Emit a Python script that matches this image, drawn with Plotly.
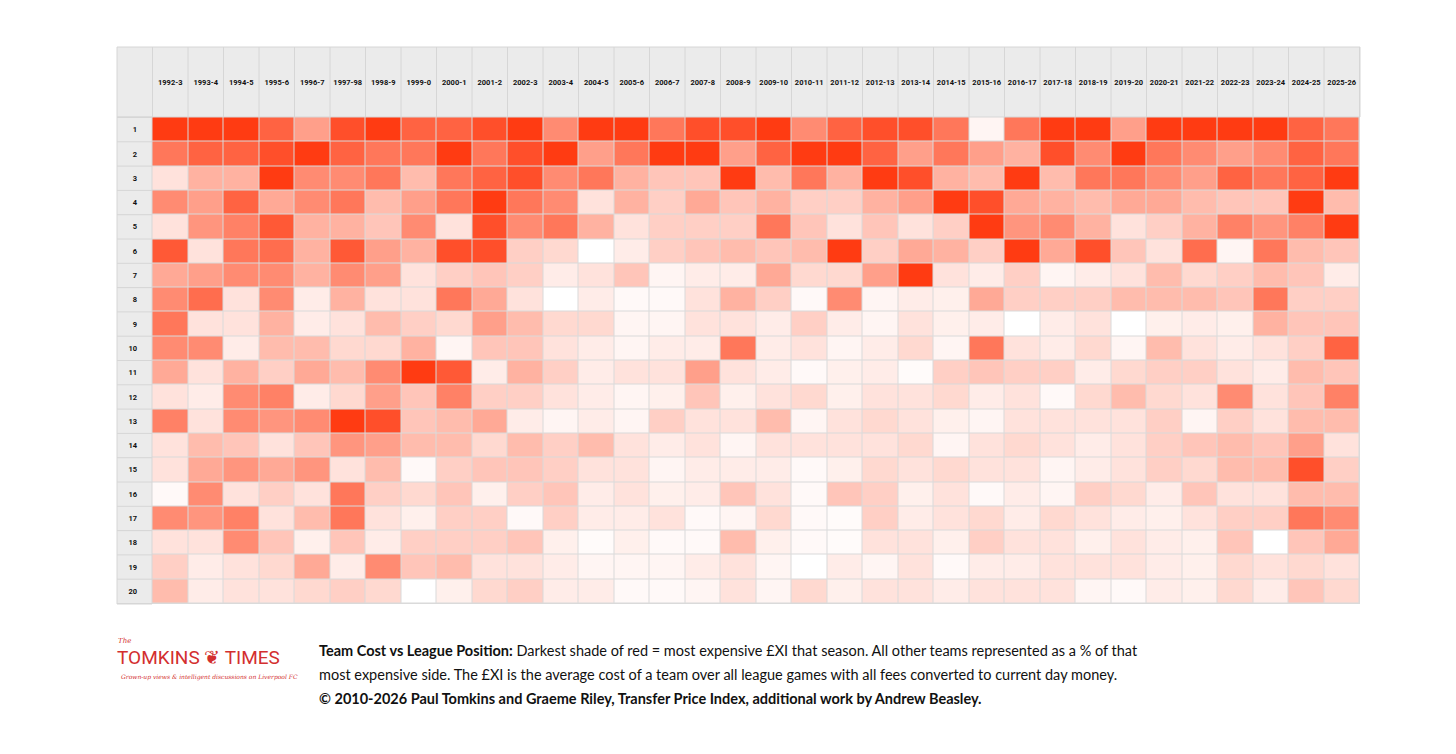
import plotly.graph_objects as go

# Seasons (columns) and league positions (rows)
seasons = ['1992-3', '1993-4', '1994-5', '1995-6', '1996-7', '1997-98', '1998-9', '1999-0',
           '2000-1', '2001-2', '2002-3', '2003-4', '2004-5', '2005-6', '2006-7', '2007-8',
           '2008-9', '2009-10', '2010-11', '2011-12', '2012-13', '2013-14', '2014-15', '2015-16',
           '2016-17', '2017-18', '2018-19', '2019-20', '2020-21', '2021-22', '2022-23', '2023-24',
           '2024-25', '2025-26']
positions = [str(i) for i in range(1, 21)]

# Shade per cell (0 = cheapest relative side, 10 = most expensive XI that season)
p01 = [10, 10, 10, 8, 5, 9, 10, 8, 8, 9, 10, 6, 10, 10, 7, 9, 9, 10, 6, 8, 9, 9, 7, 0.5, 7, 10, 10, 5, 10, 10, 10, 10, 8, 7]
p02 = [7, 8, 8, 9, 10, 8, 7, 7, 10, 7, 9, 10, 5, 7, 10, 10, 5, 8, 10, 10, 8, 5, 7, 5, 4, 9, 6, 10, 7, 6, 5, 6, 8, 7]
p03 = [1.5, 4, 4, 10, 6, 6, 7, 3.5, 7, 8, 9, 6, 7, 4, 3, 3, 10, 3.5, 7, 4, 10, 9, 4, 3.5, 10, 3.5, 7, 7, 6, 5, 8, 7, 8, 10]
p04 = [6, 5, 8, 4.5, 6, 7, 3.5, 5, 7, 10, 7, 6, 1.5, 4, 2.5, 4.5, 3, 4, 2.5, 2.5, 4, 5, 10, 9, 4.5, 4, 3.5, 4.5, 4.5, 3.5, 3, 3, 10, 3.5]
p05 = [1.5, 5.5, 6.5, 8.5, 4, 4, 3, 6, 1.5, 9, 6, 7, 4, 1.5, 2.5, 2.5, 2.5, 7, 3, 1.5, 3, 1.5, 2.5, 10, 5.5, 6, 4, 1.5, 2.5, 4, 6.5, 5.5, 6.5, 10]
p06 = [8.5, 1.5, 7, 7.5, 4, 8.5, 5, 4, 9, 9, 2.5, 2, 0, 1, 2.5, 3, 3.5, 3, 3.5, 10, 2.5, 4.5, 4, 2.5, 10, 4.5, 9, 3, 1.5, 7.5, 0.5, 7, 3.5, 3]
p07 = [4.5, 5, 6, 6, 4, 6, 5, 1.5, 2.5, 3, 2.5, 1, 1.5, 3, 0.5, 1, 1, 4.5, 2, 2, 5, 10, 1.5, 1, 2.5, 0.5, 1, 1.5, 3.5, 2, 2.5, 3.5, 3, 1]
p08 = [6, 7.5, 1.5, 6, 1, 4, 1.5, 1.5, 7, 4.5, 1.5, 0, 1, 0.3, 0.3, 1.5, 4, 2.5, 0.3, 6, 0.5, 1, 0.8, 4.5, 2.5, 2.5, 2.5, 3.5, 3.5, 3.5, 3, 7, 2.5, 2.5]
p09 = [7, 1.5, 1.5, 4, 1, 1.5, 3.5, 2.5, 2, 5, 3.5, 2, 2, 0.5, 0.5, 1.5, 1.5, 1, 2.5, 1, 0.5, 1.5, 0.8, 1, 0, 1, 1.5, 0, 0.8, 1, 0.8, 4, 3, 3]
p10 = [6, 6, 1, 3.5, 3.5, 2, 2, 4, 0.5, 3, 3, 1.5, 1, 0.5, 1, 1, 7, 1, 1.5, 0.5, 1, 2, 0.5, 7, 1.5, 1, 2, 0.5, 3.5, 1.5, 1, 1.5, 2.5, 8]
p11 = [4.5, 1.5, 4, 2.5, 4.5, 3.5, 6, 10, 8.5, 1, 4, 2.5, 1, 1.5, 1.5, 5, 1.5, 1, 0.3, 0.8, 1, 0.2, 2.5, 3, 2.5, 2.5, 1, 2, 2.5, 2.5, 1.5, 1, 3.5, 3]
p12 = [1.5, 1, 6, 6.5, 1, 2, 5, 3, 6.5, 2.5, 2.5, 1.5, 1, 0.5, 0.8, 3, 0.8, 1.5, 2, 0.8, 1.5, 1.5, 2, 1, 1.5, 0.3, 2, 3.5, 2, 1.5, 6, 1.5, 3, 6.5]
p13 = [6.5, 1.5, 6, 5.5, 6, 10, 9, 3, 3.5, 4.5, 1, 0.5, 1, 0.5, 2.5, 1.5, 1.5, 3.5, 0.5, 1.5, 2, 1.5, 0.8, 0.5, 1.5, 1.5, 1.5, 1.5, 2.5, 0.5, 2.5, 1.5, 3.5, 3.5]
p14 = [1.5, 3.5, 3, 1.5, 3, 5.5, 5, 3.5, 3.5, 2, 3.5, 2.5, 3.5, 1.5, 1, 1.5, 0.5, 1.5, 1.5, 1.5, 1.5, 2, 0.5, 1.5, 2, 1.5, 1, 1.5, 2.5, 3, 3.5, 3, 5, 1.5]
p15 = [1.5, 4.5, 5.5, 4.5, 5.5, 1.5, 3.5, 0.3, 2.5, 3, 3, 2.5, 1.5, 1.5, 0.5, 1, 1, 1, 0.3, 0.8, 2, 1.5, 2, 1.5, 1.5, 0.5, 1, 1.5, 2.5, 2, 3.5, 3.5, 9, 2.5]
p16 = [0.3, 6, 1.5, 2.5, 1.5, 7, 2.5, 2, 3, 0.8, 2.5, 3, 1, 1.5, 0.8, 1, 3, 1.5, 0.3, 3, 2.5, 0.8, 1.5, 0.3, 1, 0.5, 2.5, 2, 1, 3, 1.5, 1.5, 3.5, 3.5]
p17 = [6, 5.5, 6.5, 1.5, 3.5, 7, 1.5, 0.8, 2.5, 2.5, 0.3, 2.5, 1, 1, 1.5, 0.3, 0.5, 2, 0.3, 0.2, 2.5, 1, 1.5, 2, 1, 2, 1.5, 1, 0.8, 1.5, 2.5, 2.5, 7, 6]
p18 = [1.5, 1.5, 6, 3, 0.8, 3, 1, 2.5, 2.5, 2.5, 3, 0.8, 0.2, 0.8, 0.3, 0.3, 3.5, 0.8, 0.3, 0.2, 1.5, 1.5, 0.8, 2.5, 1.5, 1.5, 0.8, 1.5, 1, 0.8, 3, 0, 3, 4.5]
p19 = [2.5, 1, 1.5, 2, 4.5, 1, 6, 3, 3.5, 1.5, 1.5, 1, 0.5, 0.5, 0.5, 1, 1.5, 0.5, 0, 1, 0.5, 1.5, 0.3, 1, 1, 1.5, 1.5, 1.5, 1, 0.8, 2, 1.5, 2, 1.5]
p20 = [3.5, 1, 1.5, 1.5, 2, 2.5, 2, 0, 0.8, 2, 2.5, 1, 1, 0.3, 0.3, 0.5, 1.5, 0.5, 2, 0.8, 1.5, 1.5, 1, 1.5, 1.5, 1.5, 0.5, 0.3, 1, 0.8, 2, 1, 3, 2]

rows = [p01, p02, p03, p04, p05, p06, p07, p08, p09, p10,
        p11, p12, p13, p14, p15, p16, p17, p18, p19, p20]

fig = go.Figure(go.Heatmap(
    z=rows, x=seasons, y=positions,
    zmin=0, zmax=10,
    colorscale=[[0, '#FFFFFF'], [0.5, '#FF9F8A'], [1, '#FF3B12']],
    xgap=1, ygap=1, showscale=False, hoverinfo='skip'
))

# the page body has an 8px margin, so work in page pixels minus 8
OFF = 8
W, H = 1456 - 2 * OFF, 754 - 2 * OFF
px = lambda v: (v - OFF) / W
py = lambda v: 1 - (v - OFF) / H

gx0, gx1 = px(152), px(1360)
gy0, gy1 = py(604), py(117)
lx0 = px(117)
hy1 = py(47)
grey = '#EBEBEB'
line = '#D6D6D6'

shapes = [
    dict(type='rect', xref='paper', yref='paper', x0=lx0, x1=gx1, y0=gy1, y1=hy1,
         fillcolor=grey, line=dict(color=line, width=1), layer='below'),
    dict(type='rect', xref='paper', yref='paper', x0=lx0, x1=gx0, y0=gy0, y1=gy1,
         fillcolor=grey, line=dict(color=line, width=1), layer='below'),
]
# column separators in the header
for i in range(len(seasons) + 1):
    shapes.append(dict(type='line', xref='x', yref='paper', x0=i - 0.5, x1=i - 0.5,
                       y0=gy1, y1=hy1, line=dict(color=line, width=1)))
# row separators in the label column
for j in range(len(positions) + 1):
    shapes.append(dict(type='line', xref='paper', yref='y', x0=lx0, x1=gx0,
                       y0=j - 0.5, y1=j - 0.5, line=dict(color=line, width=1)))

cap_font = dict(family='Lato', size=14.5, color='#111111')
annotations = [
    dict(xref='paper', yref='paper', x=px(317), y=py(650), xanchor='left', yanchor='middle',
         align='left', showarrow=False, font=cap_font,
         text='<b>Team Cost vs League Position:</b> Darkest shade of red = most expensive £XI that season. '
              'All other teams represented as a % of that'),
    dict(xref='paper', yref='paper', x=px(317), y=py(674), xanchor='left', yanchor='middle',
         align='left', showarrow=False, font=cap_font,
         text='most expensive side. The £XI is the average cost of a team over all league games '
              'with all fees converted to current day money.'),
    dict(xref='paper', yref='paper', x=px(317), y=py(698), xanchor='left', yanchor='middle',
         align='left', showarrow=False, font=cap_font,
         text='<b>© 2010-2026 Paul Tomkins and Graeme Riley, Transfer Price Index, additional work by Andrew Beasley.</b>'),
    dict(xref='paper', yref='paper', x=px(115), y=py(657), xanchor='left', yanchor='middle',
         showarrow=False, font=dict(family='Roboto', size=19, color='#D32F2F'),
         text='TOMKINS \u2766 TIMES'),
    dict(xref='paper', yref='paper', x=px(116), y=py(641), xanchor='left', yanchor='middle',
         showarrow=False, font=dict(family='DejaVu Serif', size=7, color='#D32F2F'), text='<i>The</i>'),
    dict(xref='paper', yref='paper', x=px(119), y=py(677), xanchor='left', yanchor='middle',
         showarrow=False, font=dict(family='DejaVu Serif', size=6, color='#D32F2F'),
         text='<i>Grown-up views & intelligent discussions on Liverpool FC</i>'),
]

tick_font = dict(family='Roboto', size=7.5, color='#111111', weight='bold')
fig.update_layout(
    width=W, height=H,
    margin=dict(l=0, r=0, t=0, b=0),
    paper_bgcolor='white', plot_bgcolor='#DADADA',
    xaxis=dict(type='category', domain=[gx0, gx1], side='top', showgrid=False, zeroline=False,
               ticks='', tickfont=tick_font, ticklabelstandoff=30, tickangle=0),
    yaxis=dict(type='category', domain=[gy0, gy1], autorange='reversed', showgrid=False,
               zeroline=False, ticks='', tickfont=tick_font, ticklabelstandoff=14),
    shapes=shapes,
    annotations=annotations,
    font=dict(family='Roboto'),
)

fig.write_html('out.html')
